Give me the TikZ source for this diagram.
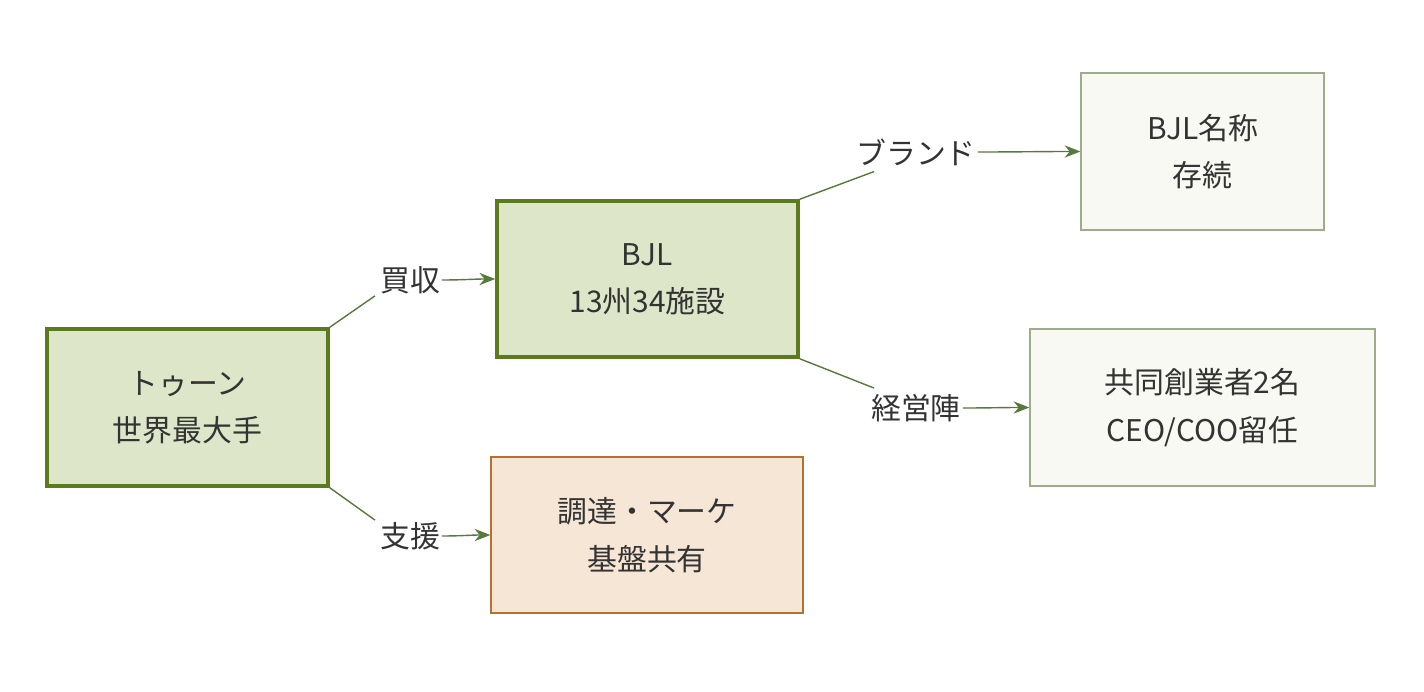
\documentclass[tikz,border=0pt]{standalone}
\usepackage{fontspec}
\setmainfont{Noto Sans CJK JP}
\usetikzlibrary{arrows.meta,positioning,calc}
\definecolor{mainedge}{HTML}{5B7B1E}
\definecolor{mainfill}{HTML}{DDE6C8}
\definecolor{subedge}{HTML}{9CAD88}
\definecolor{subfill}{HTML}{F8F9F3}
\definecolor{supedge}{HTML}{B5722E}
\definecolor{supfill}{HTML}{F6E6D6}
\definecolor{linkcol}{HTML}{557A3C}
\definecolor{txtcol}{HTML}{333333}
\begin{document}
\begin{tikzpicture}[x=0.02cm,y=-0.02cm,
  every node/.style={text=txtcol,font=\fontsize{17}{27}\selectfont,align=center},
  mainbox/.style={draw=mainedge,line width=2pt,fill=mainfill,inner sep=0pt},
  subbox/.style={draw=subedge,line width=0.7pt,fill=subfill,inner sep=0pt},
  supbox/.style={draw=supedge,line width=0.7pt,fill=supfill,inner sep=0pt},
  line/.style={draw=linkcol,line width=0.8pt},
  link/.style={line,-{Stealth[length=9pt,width=7pt]}},
  tag/.style={inner sep=1pt}]

  \useasboundingbox (0,0) rectangle (1424,692);

  % Boxes
  \node[mainbox,minimum width=281*0.02cm,minimum height=157*0.02cm] (toun) at (187.5,407.5) {トゥーン\\世界最大手};
  \node[mainbox,minimum width=301*0.02cm,minimum height=156*0.02cm] (bjl) at (647.5,279) {BJL\\13州34施設};
  \node[supbox,minimum width=312*0.02cm,minimum height=156*0.02cm] (support) at (647,535) {調達・マーケ\\基盤共有};
  \node[subbox,minimum width=243*0.02cm,minimum height=157*0.02cm] (brand) at (1202.5,151.5) {BJL名称\\存続};
  \node[subbox,minimum width=345*0.02cm,minimum height=157*0.02cm] (mgmt) at (1202.5,407.5) {共同創業者2名\\CEO/COO留任};

  % Labels
  \node[tag] (buy) at (410,280) {買収};
  \node[tag] (help) at (410,536) {支援};
  \node[tag] (name) at (916,152) {ブランド};
  \node[tag] (team) at (916,408) {経営陣};

  % Links
  \draw[line] (toun.north east) -- ($(buy.south west)+(-3,0)$);
  \draw[link] (buy.east) to[out=0,in=180] (bjl.west);
  \draw[line] (toun.south east) -- ($(help.north west)+(-3,0)$);
  \draw[link] (help.east) to[out=0,in=180] (support.west);
  \draw[line] (bjl.north east) -- ($(name.south west)+(20,4)$);
  \draw[link] (name.east) to[out=0,in=180] (brand.west);
  \draw[line] (bjl.south east) -- ($(team.north west)+(5,-4)$);
  \draw[link] (team.east) to[out=0,in=180] (mgmt.west);

\end{tikzpicture}
\end{document}
